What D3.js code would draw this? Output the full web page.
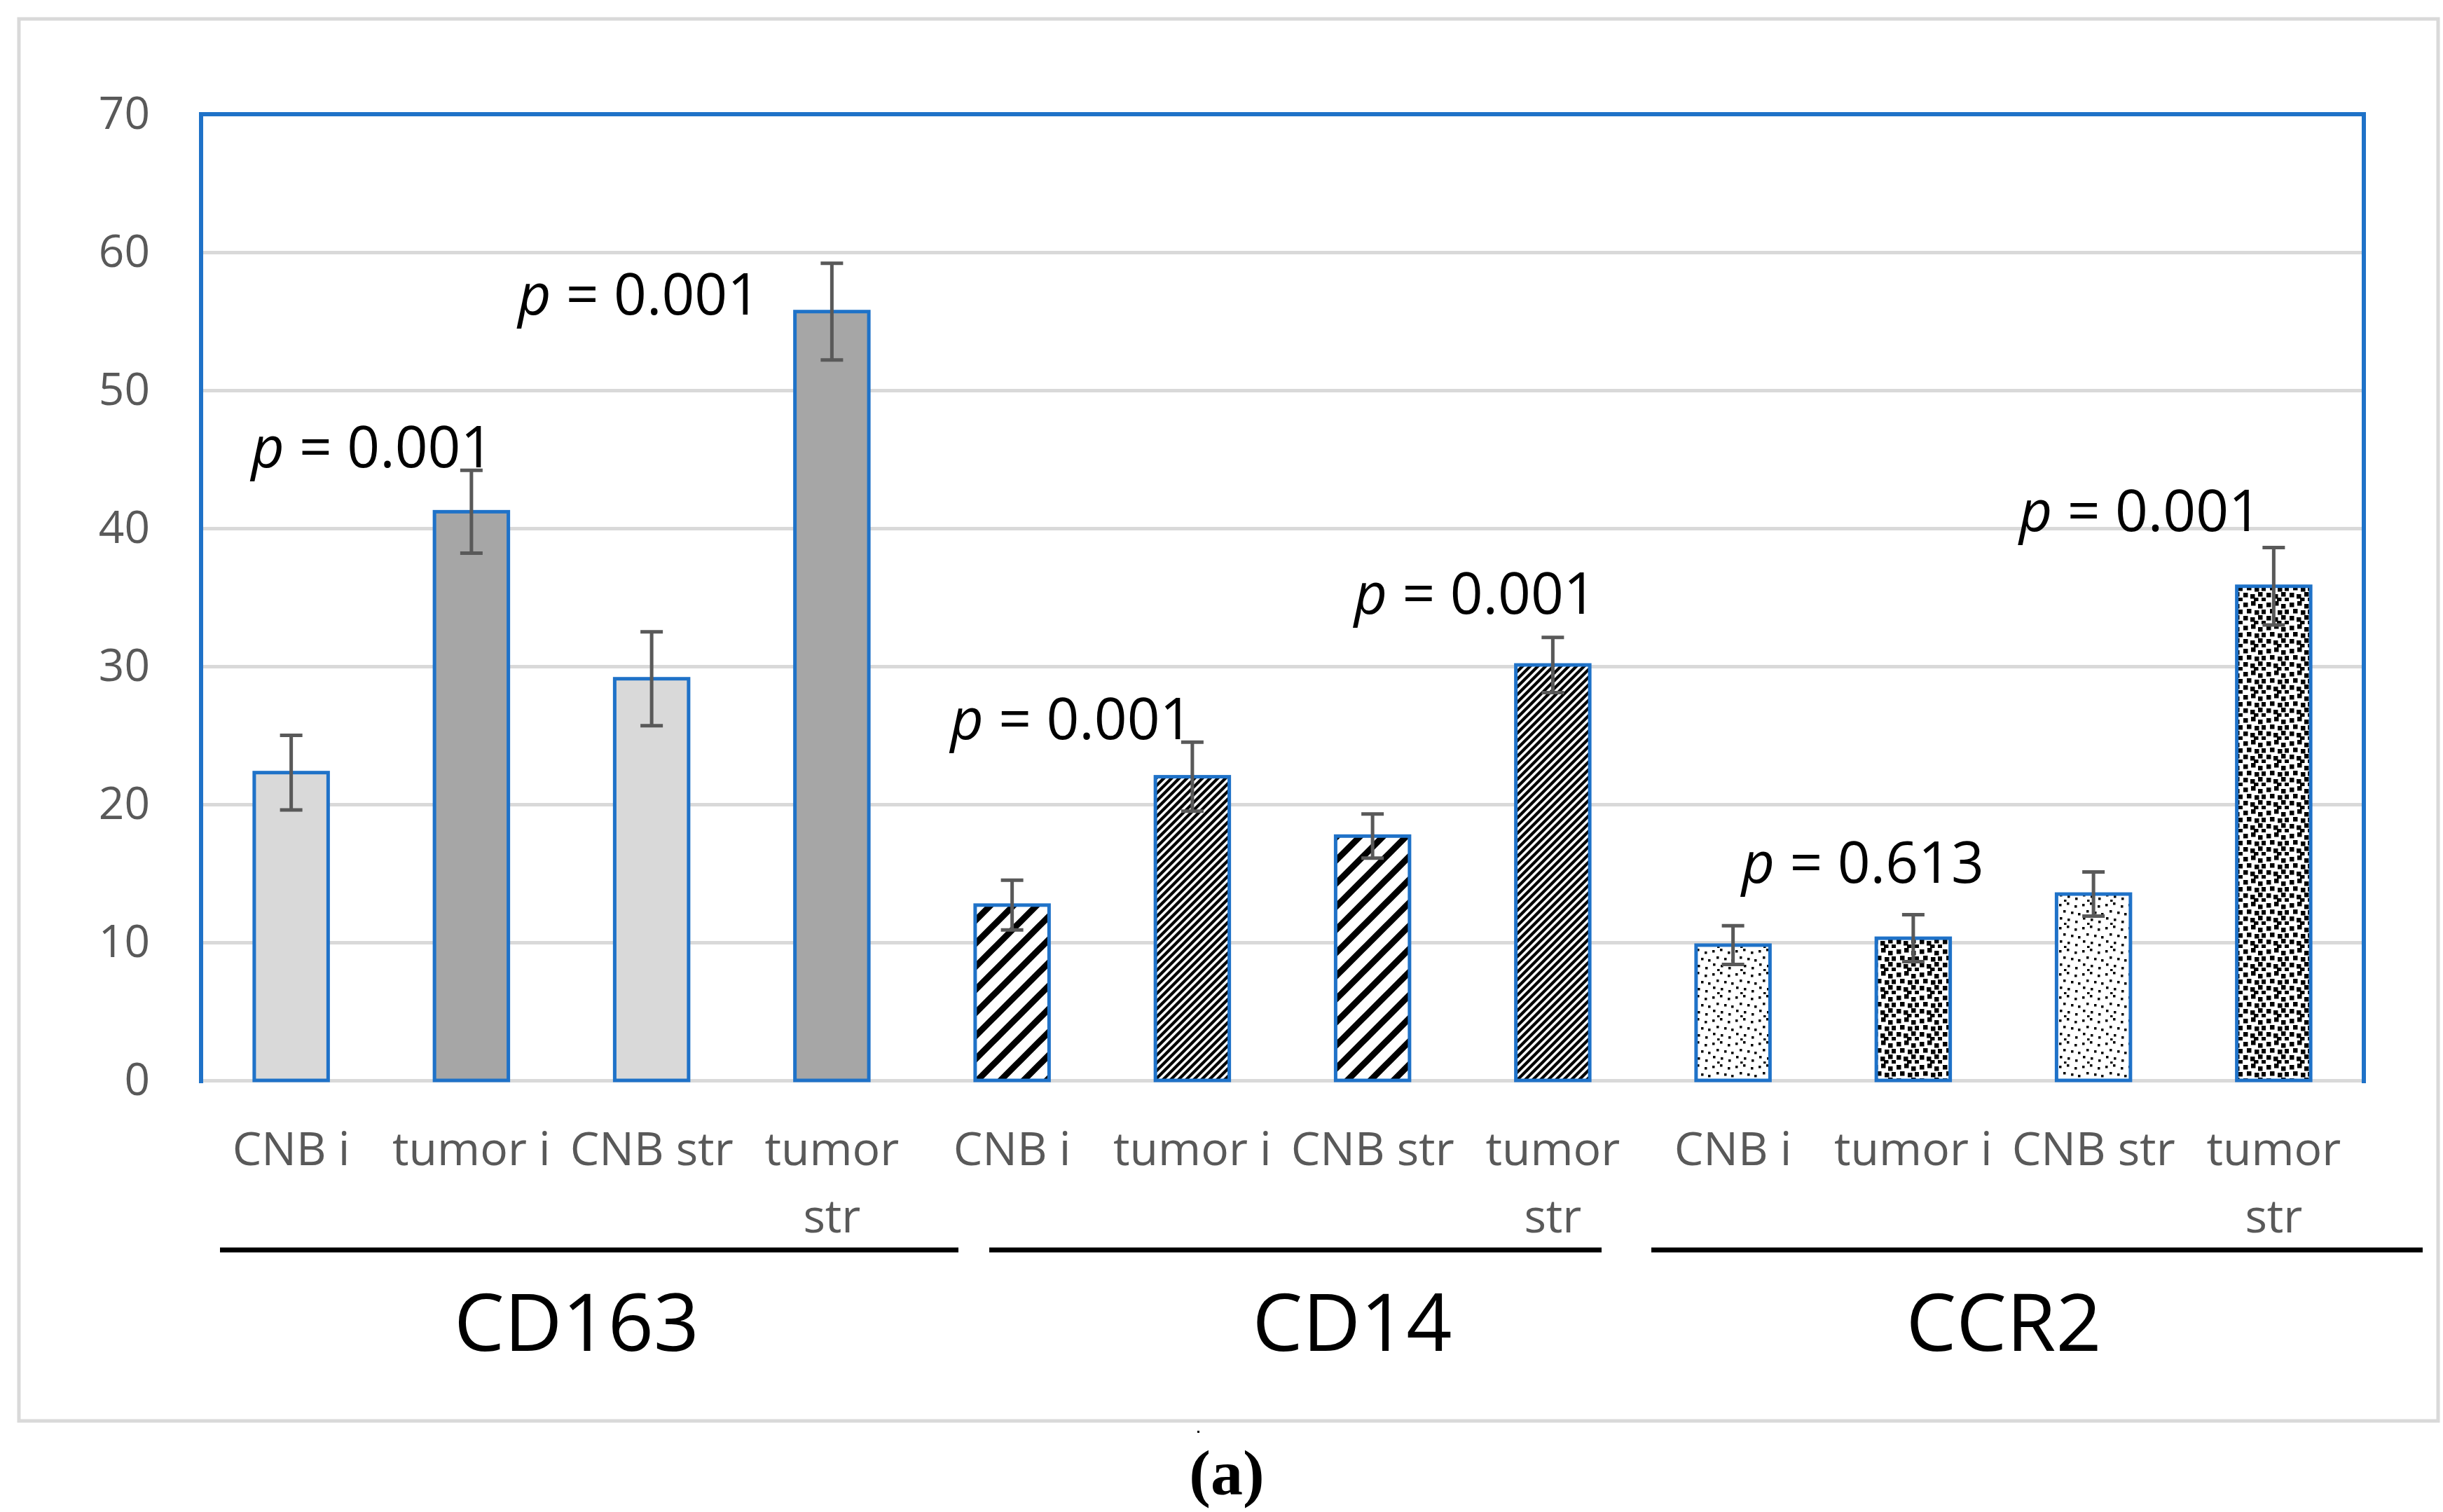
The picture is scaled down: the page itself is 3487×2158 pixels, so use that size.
<!DOCTYPE html>
<html>
<head>
<meta charset="utf-8">
<script src="https://cdn.jsdelivr.net/npm/d3@7"></script>
<style>
  html, body { margin: 0; padding: 0; background: #fff; }
  svg { display: block; }
</style>
</head>
<body>
<svg id="chart" width="3487" height="2158"></svg>
<script>
// ---------------- data ----------------
const groups = ["CD163", "CD14", "CCR2"];
const categories = ["CNB i", "tumor i", "CNB str", "tumor str"];
const cd163Values = [22.3, 41.2, 29.1, 55.7];
const cd163Errors = [2.7, 3.0, 3.4, 3.5];
const cd14Values = [12.7, 22.0, 17.7, 30.1];
const cd14Errors = [1.8, 2.5, 1.6, 2.0];
const ccr2Values = [9.8, 10.3, 13.5, 35.8];
const ccr2Errors = [1.4, 1.7, 1.6, 2.8];
const yTicks = [0, 10, 20, 30, 40, 50, 60, 70];
// p-value annotations: text, bar-slot position (0..11), value level of baseline
const pTexts = ["0.001", "0.001", "0.001", "0.001", "0.613", "0.001"];
const pSlots = [0.45, 1.93, 4.33, 6.57, 8.72, 10.26];
const pLevels = [44.4, 55.5, 24.7, 33.8, 14.3, 39.8];

// ---------------- layout ----------------
const svg = d3.select("#chart");
const plotLeft = 287, plotRight = 3374, plotTop = 163, plotBottom = 1542;
const blue = "#1f72c8", grid = "#d9d9d9", axisGray = "#595959";

const rows = [];
const valueSets = [cd163Values, cd14Values, ccr2Values];
const errorSets = [cd163Errors, cd14Errors, ccr2Errors];
groups.forEach((g, gi) => categories.forEach((c, ci) => {
  rows.push({ key: g + "|" + c, group: g, gi, cat: c, ci, value: valueSets[gi][ci], err: errorSets[gi][ci] });
}));

const x = d3.scaleBand().domain(rows.map(d => d.key)).range([plotLeft, plotRight]).paddingInner(0.59).paddingOuter(0.295);
const y = d3.scaleLinear().domain([0, 70]).range([plotBottom, plotTop]);
const slotX = d3.scaleLinear().domain([0, 11]).range([x(rows[0].key) + x.bandwidth() / 2, x(rows[11].key) + x.bandwidth() / 2]);

// outer frame
svg.append("rect").attr("x", 27).attr("y", 27).attr("width", 3453).attr("height", 2001)
  .attr("fill", "#fff").attr("stroke", grid).attr("stroke-width", 5);

// patterns
const defs = svg.append("defs");
function stripe(id, p, sw) {
  const pat = defs.append("pattern").attr("id", id).attr("patternUnits", "userSpaceOnUse")
    .attr("width", p).attr("height", p);
  pat.append("rect").attr("width", p).attr("height", p).attr("fill", "#fff");
  pat.append("path").attr("d", `M${-p/4},${p/4} L${p/4},${-p/4} M0,${p} L${p},0 M${3*p/4},${5*p/4} L${5*p/4},${3*p/4}`)
    .attr("stroke", "#000").attr("stroke-width", sw);
}
stripe("stripeWide", 33, 9);
stripe("stripeNarrow", 11, 4.3);
function dots(id, w, h, s, pts) {
  const pat = defs.append("pattern").attr("id", id).attr("patternUnits", "userSpaceOnUse")
    .attr("width", w).attr("height", h);
  pat.append("rect").attr("width", w).attr("height", h).attr("fill", "#fff");
  pts.forEach(p => pat.append("rect").attr("x", p[0]).attr("y", p[1]).attr("width", s).attr("height", s).attr("fill", "#000"));
}
dots("dotSparse", 33, 33, 3.5, [[2, 3], [13, 1], [24, 5], [8, 12], [19, 14], [29, 16], [3, 22], [14, 24], [25, 27], [9, 30]]);
dots("dotDense", 33, 33, 6.5, [[1, 2], [12, 0], [22, 4], [6, 11], [17, 13], [27, 12], [1, 21], [11, 23], [22, 20], [16, 28], [27, 28]]);

function fillFor(d) {
  const tumor = d.ci % 2 === 1;
  if (d.gi === 0) return tumor ? "#a6a6a6" : "#d9d9d9";
  if (d.gi === 1) return tumor ? "url(#stripeNarrow)" : "url(#stripeWide)";
  return tumor ? "url(#dotDense)" : "url(#dotSparse)";
}

// gridlines
svg.append("g").attr("transform", `translate(${plotLeft},0)`)
  .call(d3.axisLeft(y).tickValues(yTicks).tickSize(-(plotRight - plotLeft)).tickFormat(""))
  .call(g => g.select(".domain").remove())
  .call(g => g.selectAll("line").attr("stroke", grid).attr("stroke-width", 5));

// y tick labels
svg.append("g").attr("transform", `translate(${plotLeft},0)`)
  .call(d3.axisLeft(y).tickValues(yTicks).tickSize(0).tickPadding(73))
  .call(g => g.select(".domain").remove())
  .call(g => g.selectAll("text").attr("font-family", "'Open Sans', sans-serif")
    .attr("font-size", 64).attr("fill", axisGray));

// plot border (blue, left/top/right)
svg.append("path").attr("d", `M${plotLeft},${plotBottom + 4} L${plotLeft},${plotTop} L${plotRight},${plotTop} L${plotRight},${plotBottom + 4}`)
  .attr("fill", "none").attr("stroke", blue).attr("stroke-width", 6);

// bars
svg.append("g").selectAll("rect").data(rows).join("rect")
  .attr("x", d => x(d.key)).attr("width", x.bandwidth())
  .attr("y", d => y(d.value)).attr("height", d => y(0) - y(d.value))
  .attr("fill", fillFor).attr("stroke", blue).attr("stroke-width", 5);

// error bars
const eb = svg.append("g").attr("stroke", "#595959").attr("stroke-width", 5).attr("fill", "none");
rows.forEach(d => {
  const cx = x(d.key) + x.bandwidth() / 2;
  eb.append("path").attr("d",
    `M${cx},${y(d.value + d.err)} L${cx},${y(d.value - d.err)} ` +
    `M${cx - 16},${y(d.value + d.err)} L${cx + 16},${y(d.value + d.err)} ` +
    `M${cx - 16},${y(d.value - d.err)} L${cx + 16},${y(d.value - d.err)}`);
});

// category labels
const catG = svg.append("g").attr("font-family", "'Open Sans', sans-serif").attr("font-size", 66)
  .attr("fill", axisGray).attr("text-anchor", "middle");
rows.forEach(d => {
  const cx = x(d.key) + x.bandwidth() / 2;
  const t = catG.append("text").attr("x", cx).attr("y", 1663);
  if (d.cat === "tumor str") {
    t.append("tspan").attr("x", cx).text("tumor");
    t.append("tspan").attr("x", cx).attr("dy", 96).text("str");
  } else {
    t.text(d.cat);
  }
});

// group lines and labels
const groupLineX = [[314, 1368], [1412, 2286], [2357, 3458]];
groups.forEach((g, gi) => {
  svg.append("line").attr("x1", groupLineX[gi][0]).attr("x2", groupLineX[gi][1])
    .attr("y1", 1784).attr("y2", 1784).attr("stroke", "#000").attr("stroke-width", 7);
});
const groupLabelX = [823, 1930, 2860];
svg.append("g").selectAll("text").data(groups).join("text")
  .attr("x", (d, i) => groupLabelX[i]).attr("y", 1928)
  .attr("text-anchor", "middle").attr("font-family", "'Open Sans', sans-serif")
  .attr("font-size", 114).attr("fill", "#000").text(d => d);

// p-value annotations
pTexts.forEach((p, i) => {
  const t = svg.append("text").attr("x", slotX(pSlots[i])).attr("y", y(pLevels[i]))
    .attr("text-anchor", "middle").attr("font-family", "'Open Sans', sans-serif")
    .attr("font-size", 82).attr("fill", "#000");
  t.append("tspan").attr("font-style", "italic").text("p");
  t.append("tspan").text(" = " + p);
});

// caption
svg.append("rect").attr("x", 1709).attr("y", 2042).attr("width", 3).attr("height", 3).attr("fill", "#000");
svg.append("text").attr("x", 1751).attr("y", 2133).attr("text-anchor", "middle")
  .attr("font-family", "'Liberation Serif', serif").attr("font-weight", "bold")
  .attr("font-size", 92).attr("fill", "#000").text("(a)");
</script>
</body>
</html>
